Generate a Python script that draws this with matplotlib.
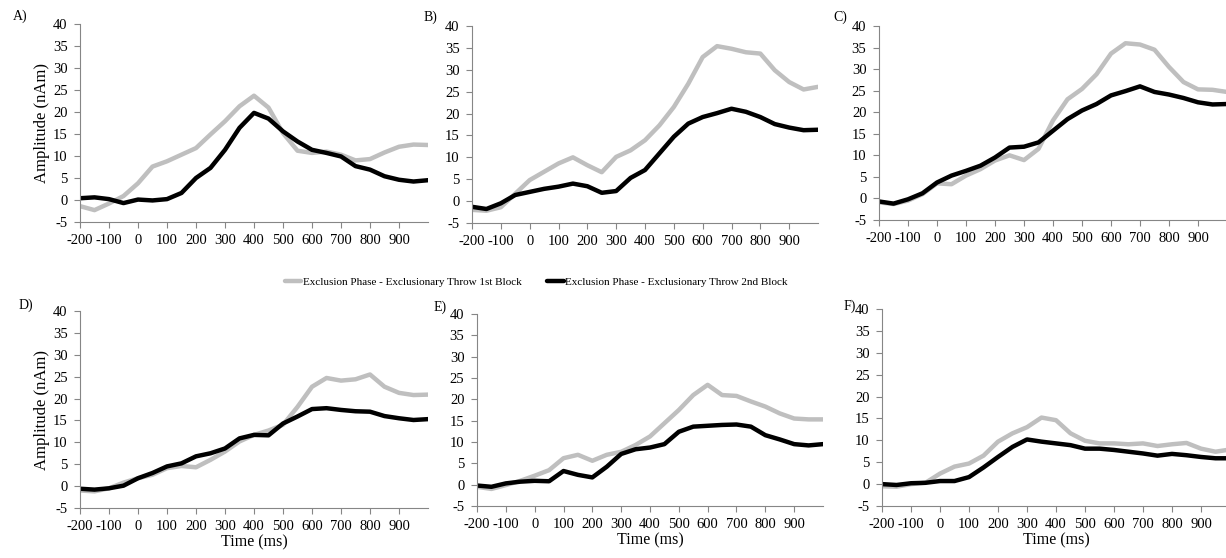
import numpy as np
import matplotlib.pyplot as plt

plt.rcParams["font.family"] = ["Liberation Serif", "DejaVu Serif"]
plt.rcParams["axes.unicode_minus"] = False

# time axis (ms), sampled every 50 ms
time_ms = np.arange(-200, 1001, 50)

# source amplitudes (nAm) per panel: 1st block (gray) and 2nd block (black)
a_first = [-1.4, -2.3, -0.8, 0.9, 3.8, 7.6, 8.8, 10.3, 11.8, 14.9, 17.9, 21.3, 23.7,
           21.0, 15.2, 11.2, 10.7, 11.0, 10.3, 9.0, 9.3, 10.8, 12.1, 12.6, 12.5]
a_second = [0.4, 0.6, 0.2, -0.7, 0.1, -0.1, 0.2, 1.6, 5.0, 7.3, 11.4, 16.4, 19.8,
            18.5, 15.6, 13.3, 11.4, 10.7, 9.9, 7.7, 6.9, 5.4, 4.6, 4.2, 4.5]

b_first = [-2.0, -2.2, -1.4, 1.7, 4.8, 6.7, 8.6, 10.0, 8.2, 6.6, 10.1, 11.6, 13.9,
           17.3, 21.5, 26.8, 32.9, 35.4, 34.8, 34.0, 33.7, 29.9, 27.2, 25.5, 26.1]
b_second = [-1.3, -1.8, -0.5, 1.4, 2.1, 2.8, 3.3, 4.0, 3.4, 1.9, 2.3, 5.3, 7.1,
            10.9, 14.7, 17.7, 19.2, 20.1, 21.1, 20.4, 19.2, 17.6, 16.8, 16.2, 16.3]

c_first = [-0.9, -1.3, -0.5, 1.0, 3.5, 3.3, 5.3, 6.8, 8.8, 10.0, 8.9, 11.5, 18.1,
           23.0, 25.4, 28.8, 33.6, 36.0, 35.7, 34.5, 30.5, 27.0, 25.3, 25.2, 24.7]
c_second = [-0.7, -1.2, -0.2, 1.2, 3.7, 5.3, 6.4, 7.6, 9.5, 11.8, 12.0, 13.0, 15.7,
            18.4, 20.4, 21.9, 23.9, 24.9, 26.0, 24.7, 24.1, 23.3, 22.3, 21.8, 21.9]

d_first = [-1.0, -1.2, -0.5, 0.8, 1.8, 2.6, 4.1, 4.6, 4.3, 6.0, 7.9, 10.2, 11.7,
           12.7, 14.0, 18.1, 22.7, 24.7, 24.1, 24.4, 25.5, 22.7, 21.3, 20.8, 20.9]
d_second = [-0.6, -0.8, -0.5, 0.1, 1.8, 3.0, 4.5, 5.2, 6.8, 7.5, 8.6, 10.9, 11.7,
            11.6, 14.3, 15.9, 17.6, 17.8, 17.4, 17.1, 17.0, 16.0, 15.5, 15.1, 15.3]

e_first = [-0.5, -1.0, -0.1, 0.9, 2.1, 3.4, 6.2, 7.0, 5.6, 7.0, 7.7, 9.3, 11.3,
           14.4, 17.5, 21.0, 23.4, 21.0, 20.8, 19.5, 18.3, 16.7, 15.5, 15.3, 15.3]
e_second = [-0.2, -0.5, 0.3, 0.7, 0.9, 0.8, 3.2, 2.3, 1.7, 4.2, 7.2, 8.3, 8.7,
            9.5, 12.4, 13.6, 13.8, 14.0, 14.1, 13.6, 11.6, 10.6, 9.5, 9.2, 9.5]

f_first = [-0.5, -0.6, 0.0, 0.3, 2.4, 4.0, 4.7, 6.5, 9.7, 11.6, 13.0, 15.2, 14.6,
           11.6, 9.9, 9.3, 9.3, 9.1, 9.3, 8.7, 9.1, 9.4, 8.1, 7.4, 7.9]
f_second = [0.0, -0.2, 0.2, 0.3, 0.7, 0.7, 1.6, 3.8, 6.2, 8.5, 10.2, 9.7, 9.3,
            8.9, 8.1, 8.1, 7.8, 7.4, 7.0, 6.5, 6.9, 6.6, 6.2, 5.9, 5.9]

panel_names = ["A)", "B)", "C)", "D)", "E)", "F)"]
first_block = [a_first, b_first, c_first, d_first, e_first, f_first]
second_block = [a_second, b_second, c_second, d_second, e_second, f_second]

x_ticks = list(range(-200, 1000, 100))
y_ticks = list(range(-5, 41, 5))

legend_labels = ["Exclusion Phase - Exclusionary Throw 1st Block",
                 "Exclusion Phase - Exclusionary Throw 2nd Block"]

W, H = 1226, 558
fig = plt.figure(figsize=(W / 100, H / 100), dpi=100)

# axes boxes in pixels: left, top, right, bottom
boxes = [(80, 24, 428, 222), (472, 26, 818, 223), (879, 26, 1227, 220),
         (80, 311, 428, 508), (477, 314, 823, 506), (882, 309, 1230, 506)]
# panel letters: right edge x, centre y
label_pos = [(27, 16), (437, 17), (847, 17), (33, 305), (447, 307), (856, 306)]

axis_grey = "#868686"
lines = []
for i, (l, t, r, b) in enumerate(boxes):
    ax = fig.add_axes([l / W, 1 - b / H, (r - l) / W, (b - t) / H])
    g, = ax.plot(time_ms, first_block[i], color="#BFBFBF", lw=3.2,
                 solid_capstyle="round", solid_joinstyle="round")
    k, = ax.plot(time_ms, second_block[i], color="black", lw=3.2,
                 solid_capstyle="round", solid_joinstyle="round")
    lines = [g, k]
    ax.set_xlim(-200, 1000)
    ax.set_ylim(-5, 40)
    ax.set_xticks(x_ticks)
    ax.set_yticks(y_ticks)
    ax.tick_params(direction="out", length=4, width=0.8, color=axis_grey,
                   labelsize=10.5, pad=5)
    for side in ["top", "right"]:
        ax.spines[side].set_visible(False)
    for side in ["left", "bottom"]:
        ax.spines[side].set_color(axis_grey)
        ax.spines[side].set_linewidth(0.8)
    ax.patch.set_alpha(0)
    if i in (0, 3):
        ax.set_ylabel("Amplitude (nAm)", fontsize=12, labelpad=2)
    if i >= 3:
        ax.set_xlabel("Time (ms)", fontsize=11.5, labelpad=1)
    fig.text(label_pos[i][0] / W, 1 - label_pos[i][1] / H, panel_names[i],
             fontsize=10, ha="right", va="center")

fig.legend(lines, legend_labels, loc="center", bbox_to_anchor=(536 / W, 1 - 282 / H),
           ncol=2, frameon=False, fontsize=8, handlelength=1.5,
           handletextpad=0.1, columnspacing=2.3)

fig.savefig("out.png", dpi=100)
